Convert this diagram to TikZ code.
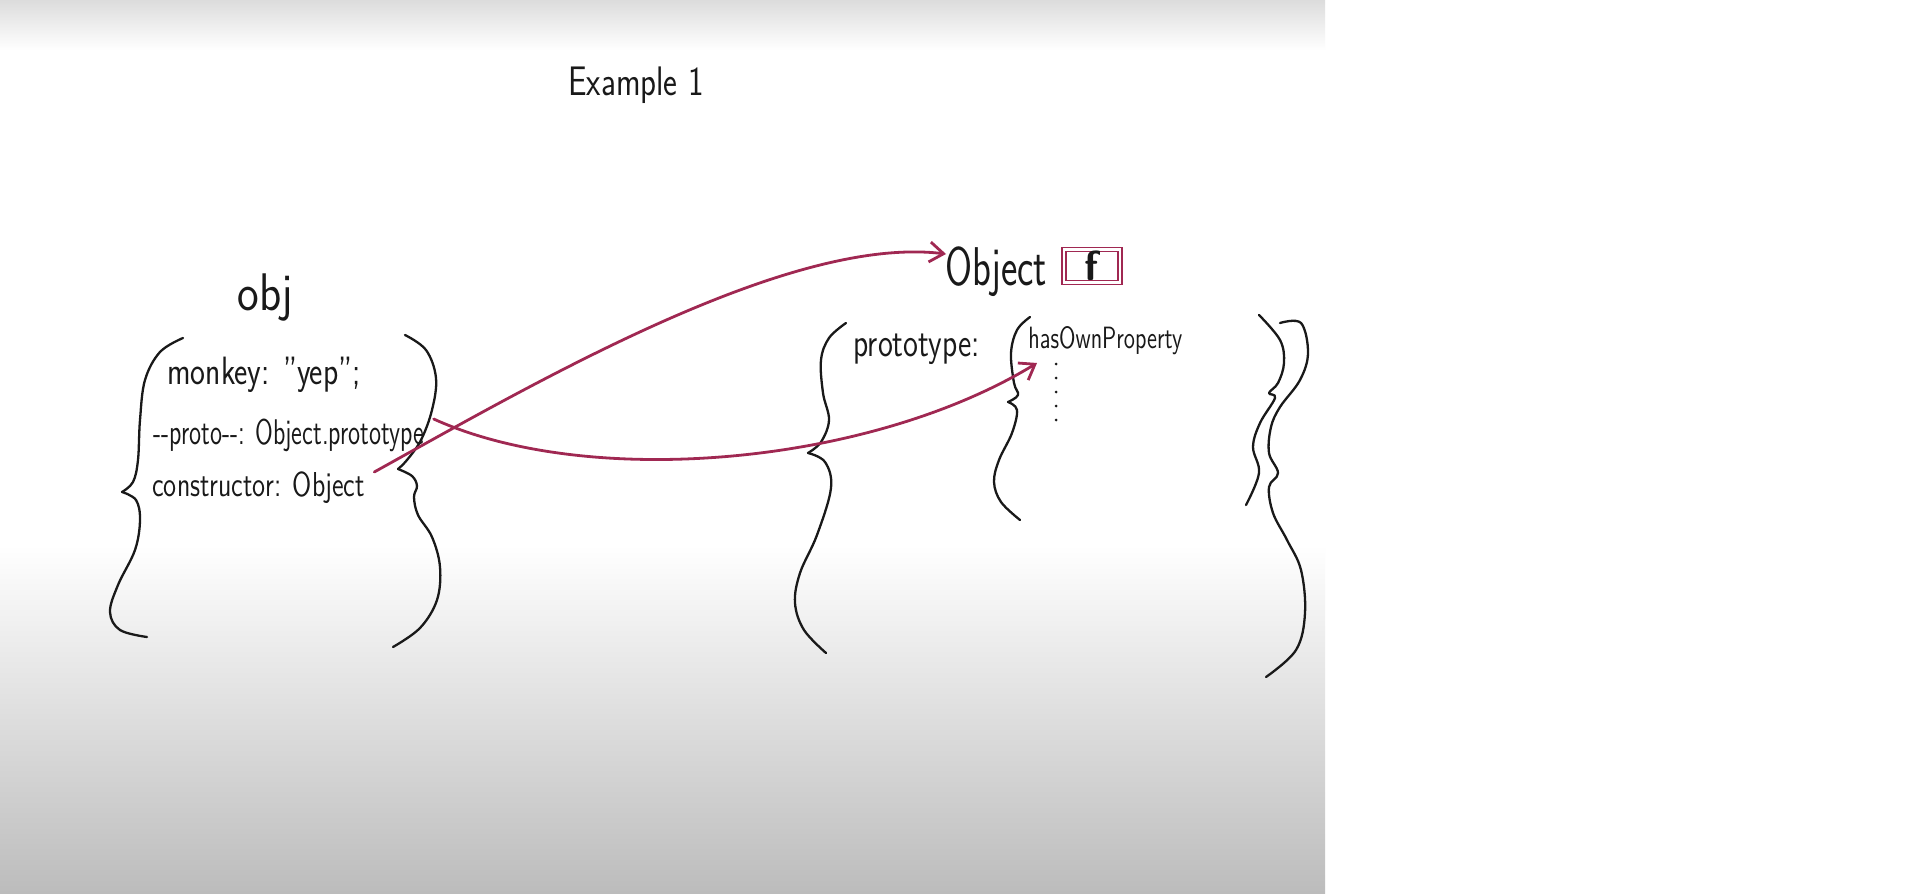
\documentclass[tikz,border=0pt]{standalone}
\usetikzlibrary{arrows.meta,calc}
\usepackage{graphicx}
\definecolor{ink}{RGB}{25,25,25}
\definecolor{wine}{RGB}{160,40,82}
\definecolor{bgbot}{RGB}{188,188,188}
\definecolor{bgtop}{RGB}{220,220,220}
\newcommand\tall[2][1.3]{\scalebox{1}[#1]{#2}}
\newcommand\hwsize[1]{\sffamily\fontsize{#1}{#1}\selectfont}
\begin{document}
\begin{tikzpicture}[x=0.5pt,y=-0.5pt,
  hand/.style={inner sep=0pt, text=ink, anchor=base west},
  pen/.style={draw=ink, line width=1.15pt, line cap=round, line join=round},
  wirepen/.style={draw=wine, line width=1.4pt, line cap=round,
    -{Straight Barb[length=7pt,width=10pt,line width=1.4pt]}},
]
\useasboundingbox (0,0) rectangle (1914,893);
\fill[white] (0,0) rectangle (1914,893);
\shade[top color=bgtop, bottom color=white] (0,0) rectangle (1325,50);
\shade[top color=white, bottom color=bgbot] (0,545) rectangle (1325,893);

% texts
\node[hand, font=\hwsize{16.5}] (title) at (568,96) {\tall[1.25]{Example 1}};
\node[hand, font=\hwsize{23}] (objname) at (237,310) {\tall[1.15]{obj}};
\node[hand, font=\hwsize{15.8}] (monkey) at (167,384) {\tall[1.25]{monkey: "yep";}};
\node[hand, font=\hwsize{12.3}] (proto) at (153,444) {\tall[1.45]{-{}-proto-{}-: Object.prototype}};
\node[hand, font=\hwsize{13.3}] (cons) at (152,496) {\tall[1.3]{constructor: Object}};
\node[hand, font=\hwsize{19.5}] (objfn) at (945,285) {\tall[1.4]{Object}};
\node[hand, font=\hwsize{15.2}] (protoprop) at (853,356) {\tall[1.3]{prototype:}};
\node[hand, font=\hwsize{11.4}] (hasown) at (1028,348) {\tall[1.35]{hasOwnProperty}};

% function box
\node[draw=wine, double=white, double distance=1.1pt, line width=0.9pt,
      minimum width=28pt, minimum height=16.5pt, inner sep=0pt,
      font=\sffamily\bfseries\fontsize{21}{21}\selectfont, text=ink] (fbox) at (1092,266) {\raisebox{-1pt}{f}};

% dots
\foreach \yy in {364,378,392,406,420} \fill[ink] (1056,\yy) circle (1.5);

% obj braces
\draw[pen] plot[smooth, tension=0.6] coordinates {(183,338) (160,352) (145,380) (140,420) (138,460) (133,482) (122,492)};
\draw[pen] plot[smooth, tension=0.6] coordinates {(122,492) (136,500) (140,520) (135,550) (118,585) (110,612) (120,630) (147,637)};
\draw[pen] plot[smooth, tension=0.6] coordinates {(405,335) (426,350) (436,378) (432,410) (421,440) (407,460) (398,469)};
\draw[pen] plot[smooth, tension=0.6] coordinates {(398,469) (412,476) (417,486) (414,497) (418,515) (432,537) (440,567) (437,600) (420,628) (393,647)};

% Object function braces
\draw[pen] plot[smooth, tension=0.6] coordinates {(846,323) (829,338) (821,360) (823,393) (829,420) (821,442) (808,453)};
\draw[pen] plot[smooth, tension=0.6] coordinates {(808,453) (825,462) (831,488) (817,535) (800,573) (795,603) (804,630) (826,653)};
\draw[pen] plot[smooth, tension=0.6] coordinates {(1030,317) (1017,330) (1011,353) (1014,383) (1018,395) (1008,402)};
\draw[pen] plot[smooth, tension=0.6] coordinates {(1008,402) (1017,410) (1012,433) (999,460) (994,482) (1001,502) (1020,520)};
\draw[pen] plot[smooth, tension=0.6] coordinates {(1259,315) (1280,340) (1284,363) (1278,383) (1269,393) (1275,398) (1260,423) (1253,447) (1259,473) (1246,505)};
\draw[pen] plot[smooth, tension=0.6] coordinates {(1280,323) (1301,323) (1308,353) (1300,380) (1280,407) (1271,427) (1269,453) (1278,473) (1269,487) (1273,513) (1287,540) (1301,570) (1305,613) (1296,650) (1266,677)};

% connectors
\coordinate (a1s) at ($(cons.base east)+(9,-24)$);
\coordinate (a1e) at ($(objfn.base west)+(1,-31)$);
\draw[wirepen] (a1s) .. controls (540,380) and (790,235) .. (a1e);
\coordinate (a2s) at ($(proto.base east)+(9,-25)$);
\coordinate (a2e) at ($(hasown.base west)+(9,15)$);
\draw[wirepen] (a2s) .. controls (590,490) and (870,465) .. (a2e);
\end{tikzpicture}
\end{document}
